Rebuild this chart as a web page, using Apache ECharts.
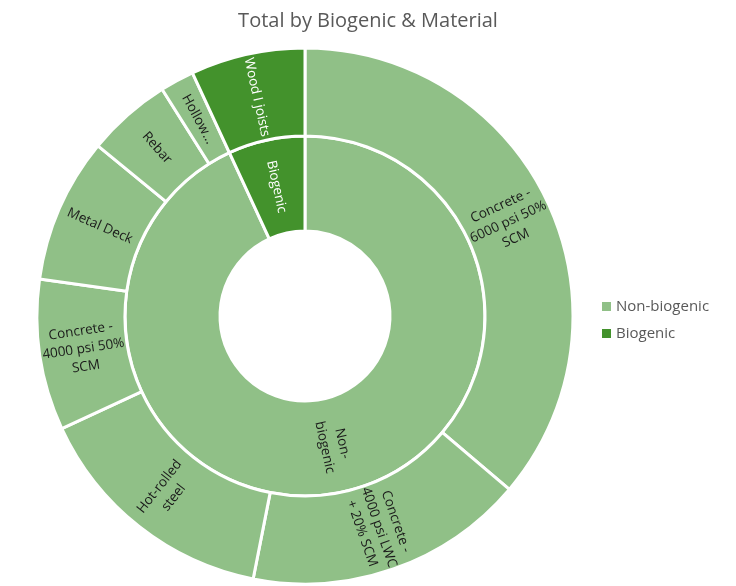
<!DOCTYPE html>
<html>
<head>
<meta charset="utf-8">
<script src="https://cdn.jsdelivr.net/npm/echarts@6/dist/echarts.min.js"></script>
<style>html,body{margin:0;padding:0;background:#fff;}#c{width:736px;height:586px;}</style>
</head>
<body>
<div id="c"></div>
<script>
const groups = ['Non-biogenic', 'Biogenic'];
const groupColors = ['#90c087', '#43922c'];
const nonBioMaterials = ['Concrete - 6000 psi 50% SCM', 'Concrete - 4000 psi LWC + 20% SCM', 'Hot-rolled steel', 'Concrete - 4000 psi 50% SCM', 'Metal Deck', 'Rebar', 'Hollow...'];
const nonBioLabels = ['Concrete -\n6000 psi 50%\nSCM', 'Concrete -\n4000 psi LWC\n+ 20% SCM', 'Hot-rolled\nsteel', 'Concrete -\n4000 psi 50%\nSCM', 'Metal Deck', 'Rebar', 'Hollow...'];
const nonBioValues = [36.2, 16.9, 15.0, 9.1, 8.75, 5.1, 2.05];
const bioMaterials = ['Wood I joists'];
const bioLabels = ['Wood I joists'];
const bioValues = [6.9];
const groupLabels = ['Non-\nbiogenic', 'Biogenic'];

function kids(names, labels, values, color, textColor) {
  return names.map((n, i) => ({
    name: n, value: values[i],
    itemStyle: { color: color },
    label: { formatter: labels[i], color: textColor }
  }));
}
const sum = a => a.reduce((s, v) => s + v, 0);

const data = [
  { name: groups[0], itemStyle: { color: groupColors[0] }, label: { formatter: groupLabels[0], color: '#1a1a1a' },
    children: kids(nonBioMaterials, nonBioLabels, nonBioValues, groupColors[0], '#1a1a1a') },
  { name: groups[1], itemStyle: { color: groupColors[1] }, label: { formatter: groupLabels[1], color: '#ffffff' },
    children: kids(bioMaterials, bioLabels, bioValues, groupColors[1], '#ffffff') }
];

const chart = echarts.init(document.getElementById('c'), null, { renderer: 'canvas' });
chart.setOption({
  animation: false,
  title: { text: 'Total by Biogenic & Material', left: 'center', top: 6,
    textStyle: { fontFamily: 'Open Sans', fontSize: 20, fontWeight: 'normal', color: '#595959' } },
  legend: {
    orient: 'vertical', left: 597, top: 294, itemWidth: 9, itemHeight: 9, itemGap: 12,
    icon: 'rect', data: groups,
    textStyle: { fontFamily: 'Open Sans', fontSize: 15, color: '#595959' }
  },
  series: [
    {
      type: 'pie', radius: [0, 0], center: [305, 316], silent: true,
      label: { show: false }, labelLine: { show: false },
      data: groups.map((g, i) => ({ name: g, value: i === 0 ? sum(nonBioValues) : sum(bioValues), itemStyle: { color: groupColors[i] } }))
    },
    {
      type: 'sunburst', center: [305, 316], radius: [85, 268], sort: null,
      startAngle: 90, clockwise: true,
      data: data,
      itemStyle: { borderColor: '#ffffff', borderWidth: 3 },
      label: { rotate: 'radial', fontFamily: 'Open Sans', fontSize: 13.5, lineHeight: 18, align: 'center' },
      emphasis: { disabled: true },
      levels: [
        {},
        { r0: 85, r: 180 },
        { r0: 180, r: 268 }
      ]
    }
  ]
});
</script>
</body>
</html>
